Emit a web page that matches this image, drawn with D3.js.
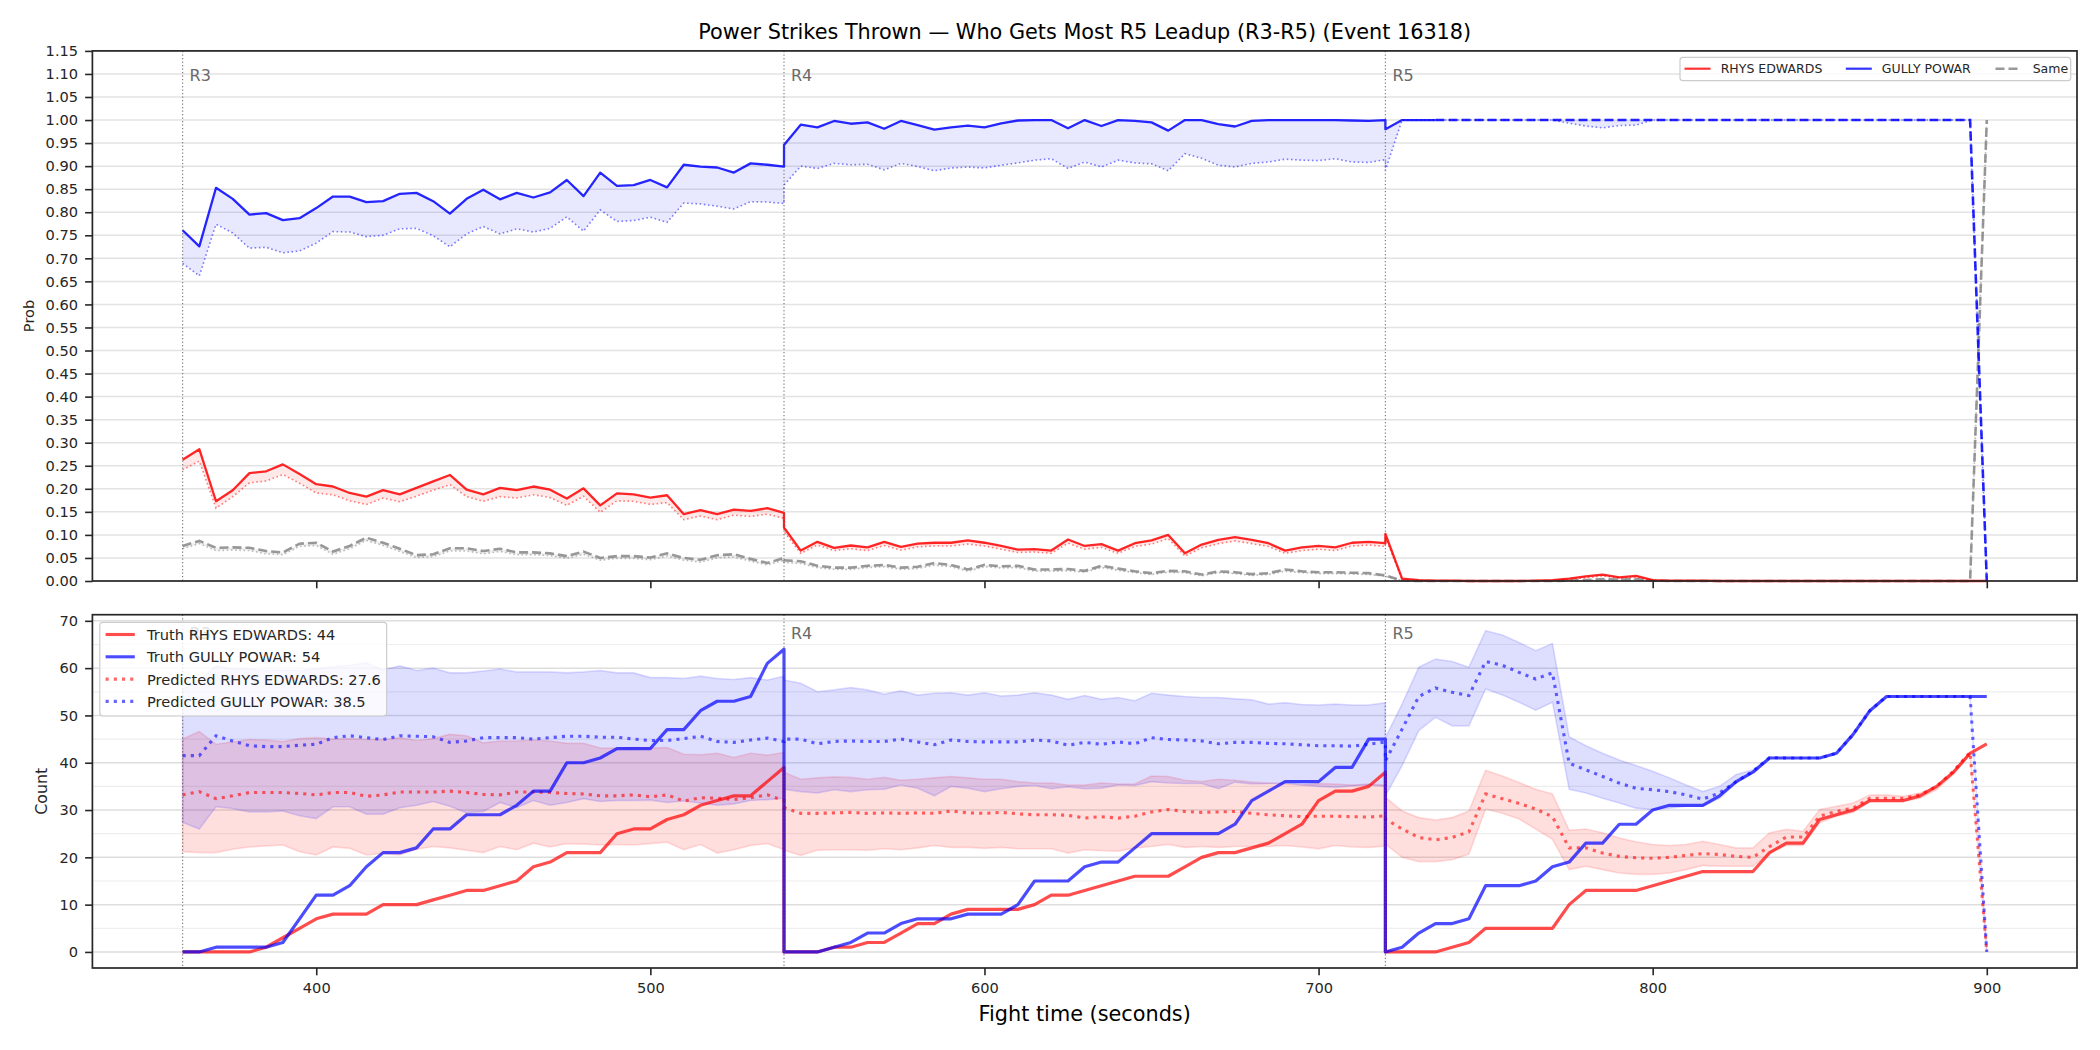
<!DOCTYPE html>
<html>
<head>
<meta charset="utf-8">
<script src="https://cdn.jsdelivr.net/npm/d3@7"></script>
<style>
  html, body { margin: 0; padding: 0; background: #fff; }
  svg { display: block; font-family: "DejaVu Sans", sans-serif; }
</style>
</head>
<body>
<svg id="chart" width="2100" height="1050"></svg>
<script>
// Rounds shown (5 s steps, each round keeps its own first/last point)
const rounds = [
  { name: 'R3', start: 360, end: 540 },
  { name: 'R4', start: 540, end: 720 },
  { name: 'R5', start: 720, end: 900 },
];
const fighters = ['RHYS EDWARDS', 'GULLY POWAR'];
const predictedFinal = [27.6, 38.5];
const blueLockTime = 735; // from here the GULLY POWAR prob is drawn dashed

// ---- top panel: probabilities (line + dotted lower edge) ----
const probRed = [
  0.263,0.286,0.173,0.197,0.234,0.238,0.253,0.232,0.210,0.205, 0.191,0.183,0.197,0.188,0.202,0.216,0.230,0.198,0.188,0.202,
  0.197,0.205,0.198,0.179,0.201,0.164,0.190,0.188,0.181,0.186, 0.145,0.154,0.145,0.155,0.152,0.158,0.148,
  0.116,0.066,0.085,0.072,0.077,0.073,0.085,0.074,0.081,0.083, 0.083,0.088,0.083,0.076,0.068,0.069,0.066,0.090,0.076,0.080,
  0.066,0.082,0.088,0.100,0.060,0.079,0.089,0.095,0.089,0.082, 0.066,0.073,0.076,0.073,0.083,0.085,0.082,
  0.102,0.005,0.002,0.001,0.001,0,0,0,0,0.001, 0.002,0.005,0.010,0.014,0.008,0.011,0.002,0.001,0.001,0.001,
  0,0,0,0,0,0,0,0,0,0, 0,0,0,0,0,0,0,
];
const probRedLo = [
  0.241,0.260,0.158,0.183,0.213,0.217,0.231,0.212,0.191,0.187, 0.174,0.166,0.180,0.172,0.184,0.197,0.209,0.183,0.173,0.183,
  0.180,0.187,0.181,0.164,0.184,0.149,0.174,0.173,0.166,0.170, 0.133,0.141,0.133,0.143,0.140,0.145,0.136,
  0.107,0.060,0.078,0.066,0.070,0.066,0.077,0.067,0.074,0.076, 0.076,0.080,0.076,0.069,0.062,0.063,0.060,0.082,0.069,0.073,
  0.060,0.075,0.080,0.092,0.054,0.072,0.081,0.087,0.081,0.075, 0.060,0.066,0.069,0.066,0.076,0.078,0.075,
  0.095,0.003,0.001,0,0,0,0,0,0,0, 0.001,0.003,0.007,0.011,0.006,0.008,0.001,0,0,0,
  0,0,0,0,0,0,0,0,0,0, 0,0,0,0,0,0,0,
];
const probBlue = [
  0.761,0.726,0.853,0.829,0.795,0.798,0.783,0.787,0.809,0.834, 0.834,0.822,0.824,0.840,0.842,0.824,0.797,0.829,0.849,0.828,
  0.842,0.832,0.843,0.870,0.835,0.886,0.857,0.859,0.870,0.854, 0.903,0.899,0.897,0.886,0.906,0.903,0.899,
  0.946,0.990,0.984,0.998,0.992,0.995,0.981,0.998,0.989,0.979, 0.984,0.988,0.984,0.993,0.999,1.000,1.000,0.982,1.000,0.987,
  1.000,0.998,0.995,0.977,1.000,1.000,0.991,0.986,0.998,1.000, 1.000,1.000,1.000,1.000,0.999,0.998,1.000,
  0.980,1,1,1,1,1,1,1,1,1, 1,1,1,1,1,1,1,1,1,1,
  1,1,1,1,1,1,1,1,1,1, 1,1,1,1,1,1,0,
];
const probBlueLo = [
  0.689,0.662,0.774,0.755,0.722,0.724,0.712,0.716,0.733,0.758, 0.757,0.747,0.750,0.764,0.765,0.749,0.725,0.753,0.769,0.753,
  0.764,0.757,0.765,0.790,0.759,0.805,0.780,0.782,0.789,0.778, 0.820,0.818,0.813,0.807,0.823,0.822,0.819,
  0.859,0.900,0.895,0.906,0.903,0.904,0.892,0.906,0.899,0.890, 0.896,0.898,0.896,0.902,0.907,0.913,0.916,0.895,0.909,0.898,
  0.913,0.907,0.905,0.890,0.927,0.917,0.902,0.898,0.906,0.909, 0.915,0.913,0.912,0.916,0.909,0.908,0.914,
  0.891,1,1,1,1,1,1,1,1,1, 1,0.993,0.987,0.983,0.988,0.989,1,1,1,1,
  1,1,1,1,1,1,1,1,1,1, 1,1,1,1,1,1,0,
];
const probSame = [
  0.076,0.087,0.072,0.073,0.072,0.065,0.062,0.081,0.083,0.064, 0.076,0.094,0.083,0.070,0.056,0.058,0.071,0.071,0.065,0.070,
  0.062,0.062,0.060,0.054,0.064,0.050,0.054,0.054,0.051,0.060, 0.050,0.046,0.056,0.058,0.048,0.039,0.050,
  0.045,0.043,0.033,0.029,0.029,0.033,0.035,0.029,0.031,0.039, 0.035,0.025,0.035,0.032,0.033,0.025,0.025,0.026,0.022,0.033,
  0.027,0.021,0.017,0.022,0.021,0.014,0.021,0.019,0.015,0.017, 0.025,0.021,0.019,0.019,0.018,0.017,0.012,
  0.012,0.001,0,0,0,0,0,0,0,0, 0,0.001,0.002,0.004,0.003,0.004,0.001,0,0,0,
  0,0,0,0,0,0,0,0,0,0, 0,0,0,0,0,0,1,
];
const probSameLo = [
  0.070,0.081,0.066,0.067,0.066,0.059,0.057,0.075,0.077,0.058, 0.070,0.088,0.077,0.064,0.051,0.053,0.065,0.065,0.059,0.064,
  0.057,0.057,0.055,0.049,0.058,0.045,0.049,0.049,0.046,0.054, 0.045,0.041,0.050,0.052,0.043,0.035,0.045,
  0.040,0.038,0.029,0.025,0.025,0.029,0.031,0.025,0.027,0.034, 0.031,0.021,0.031,0.028,0.029,0.021,0.021,0.022,0.019,0.029,
  0.023,0.018,0.014,0.019,0.018,0.011,0.018,0.016,0.012,0.014, 0.021,0.018,0.016,0.016,0.015,0.014,0.010,
  0.010,0.001,0,0,0,0,0,0,0,0, 0,0,0.001,0.003,0.002,0.003,0,0,0,0,
  0,0,0,0,0,0,0,0,0,0, 0,0,0,0,0,0,1,
];

// ---- bottom panel: counts ----
const truthRed = [
  0,0,0,0,0,1,3,5,7,8, 8,8,10,10,10,11,12,13,13,14, 15,18,19,21,21,21,25,26,26,28, 29,31,32,33,33,36,39,
  0,0,0,1,1,2,2,4,6,6, 8,9,9,9,9,10,12,12,13,14, 15,16,16,16,18,20,21,21,22,23, 25,27,32,34,34,35,38,
  0,0,0,0,1,2,5,5,5,5, 5,10,13,13,13,13,14,15,16,17, 17,17,17,21,23,23,28,29,30,32, 32,32,33,35,38,42,44,
];
const truthBlue = [
  0,0,1,1,1,1,2,7,12,12, 14,18,21,21,22,26,26,29,29,29, 31,34,34,40,40,41,43,43,43,47, 47,51,53,53,54,61,64,
  0,0,0,1,2,4,4,6,7,7, 7,8,8,8,10,15,15,15,18,19, 19,22,25,25,25,25,25,27,32,34, 36,36,36,39,39,45,45,
  0,1,4,6,6,7,14,14,14,15, 18,19,23,23,27,27,30,31,31,31, 33,36,38,41,41,41,41,42,46,51, 54,54,54,54,54,54,54,
];
const predRed = [
  33.2,33.9,32.4,33.0,33.7,33.7,33.7,33.5,33.2,33.7, 33.7,32.9,33.2,33.8,33.8,33.8,34.0,33.7,33.3,33.2,
  33.8,33.8,33.7,33.5,33.4,33.0,33.0,33.2,32.8,33.2, 31.9,32.6,32.5,32.2,32.6,33.2,32.0,
  30.5,29.3,29.3,29.4,29.5,29.3,29.4,29.3,29.4,29.3, 29.8,29.4,29.3,29.5,29.2,29.0,29.0,28.9,28.3,28.6,
  28.3,28.7,29.6,30.1,29.7,29.5,29.6,29.7,29.3,29.0, 28.8,28.6,28.7,28.7,28.6,28.5,28.8,
  28.1,26.0,24.2,23.7,24.2,25.4,33.4,32.4,31.4,30.2, 28.6,22.0,22.0,20.9,20.2,19.9,19.8,20.0,20.4,20.8,
  20.6,20.2,20.0,22.3,24.3,24.3,28.7,29.7,30.4,32.5, 32.5,32.5,33.2,35.0,38.2,42.2,0,
];
const predRedLo = [
  21.2,21.0,21.0,21.7,22.2,22.4,22.6,21.2,20.5,22.2, 21.9,20.5,20.8,20.5,21.7,22.3,22.0,21.5,21.0,22.3,
  21.6,23.0,22.2,22.9,22.8,22.6,22.7,22.6,22.9,23.2, 21.6,22.7,20.9,21.6,22.5,22.9,21.6,
  21.5,20.4,21.5,21.6,21.6,21.5,21.8,21.6,22.0,22.5, 22.1,22.1,21.9,22.1,21.8,21.8,21.8,20.9,21.6,21.4,
  21.3,22.0,22.3,22.7,22.1,22.3,22.1,22.3,22.3,22.3, 22.5,22.2,21.8,22.5,22.2,22.1,22.4,
  22.8,20.0,19.1,19.1,19.5,20.7,30.2,29.3,28.1,26.0, 23.8,17.4,18.1,17.4,16.7,16.4,16.4,16.7,17.4,18.3,
  18.1,18.1,18.1,20.9,22.5,22.5,27.3,28.7,29.5,31.8, 31.8,31.8,32.5,34.3,37.5,41.7,0,
];
const predRedHi = [
  45.0,46.6,43.9,44.4,44.9,44.8,44.5,45.1,45.3,45.0, 45.1,44.9,44.9,45.3,44.7,45.1,46.0,45.7,44.2,44.6,
  44.6,44.8,44.6,44.1,44.1,43.1,43.1,43.2,43.1,43.2, 41.8,41.7,42.0,41.1,42.0,41.6,42.2,
  38.0,36.5,36.8,37.0,36.9,36.5,36.9,36.3,36.5,36.8, 37.1,36.8,36.5,36.5,36.0,35.7,35.7,35.3,35.3,35.7,
  35.5,35.5,37.2,37.1,36.3,36.0,36.5,36.3,35.9,35.7, 35.5,35.3,35.6,35.5,35.3,35.5,35.3,
  32.7,29.8,28.4,27.9,28.4,29.8,38.4,37.2,35.8,34.4, 33.4,25.7,26.0,25.2,24.1,23.3,22.7,22.5,22.7,23.4,
  22.7,22.0,22.0,25.2,25.9,25.5,30.1,30.8,31.5,33.2, 33.2,32.9,33.6,35.0,38.2,42.2,0,
];
const predBlue = [
  41.5,41.5,45.7,44.6,43.6,43.4,43.4,43.7,43.9,45.3, 45.7,45.3,44.9,45.7,45.6,45.5,44.3,44.6,45.3,45.3,
  45.3,45.0,45.3,45.6,45.6,45.4,45.4,45.0,44.7,44.7, 45.1,45.6,44.5,44.3,44.8,45.2,44.5,
  45.0,45.0,44.0,44.5,44.6,44.5,44.5,45.0,44.4,43.8, 44.8,44.5,44.4,44.4,44.4,44.8,44.6,43.7,44.3,43.9,
  44.4,44.0,45.3,44.9,44.8,44.6,44.0,44.3,44.3,44.1, 44.0,43.8,43.6,43.6,43.5,43.9,44.4,
  40.4,47.1,54.0,55.8,54.9,54.2,61.4,60.6,59.1,57.7, 59.0,39.9,38.5,37.1,35.7,34.6,34.3,33.9,33.2,32.3,
  33.6,36.0,38.2,41.1,41.0,41.0,41.0,42.0,46.0,51.0, 54.0,54.0,54.0,54.0,54.0,54.0,0,
];
const predBlueLo = [
  27.4,26.0,30.7,30.3,29.6,29.6,29.8,28.8,28.2,30.7, 30.7,29.1,29.1,30.5,31.0,31.8,30.8,29.4,29.7,31.6,
  30.5,32.0,31.0,31.6,32.4,31.8,32.0,32.0,32.1,31.6, 31.9,31.5,31.0,31.3,32.0,32.2,32.5,
  34.4,33.9,33.6,34.3,33.9,34.3,34.4,35.3,34.6,33.0, 35.0,34.6,33.9,34.5,35.0,35.2,34.5,34.9,34.5,34.6,
  35.3,35.2,36.0,35.7,35.6,35.6,34.5,35.9,35.5,35.6, 35.7,35.3,35.0,34.8,35.1,35.3,35.0,
  33.0,39.4,46.8,49.6,47.8,47.8,55.6,54.3,52.8,51.1, 52.8,34.4,33.6,32.5,31.5,30.4,30.1,30.4,30.8,30.8,
  32.5,35.7,37.9,41.1,41.0,41.0,41.0,42.0,46.0,51.0, 54.0,54.0,54.0,54.0,54.0,54.0,0,
];
const predBlueHi = [
  55.5,57.5,60.5,59.8,59.8,59.5,59.6,59.5,59.8,60.3, 60.6,61.1,59.6,60.5,59.5,60.0,59.0,59.0,59.4,59.8,
  59.2,59.2,59.2,59.0,59.2,59.5,59.0,59.0,58.0,58.0, 57.8,58.3,57.8,57.6,58.0,57.5,58.3,
  57.5,56.8,55.0,55.4,55.9,55.4,54.5,55.2,54.3,54.7, 54.8,54.3,54.8,54.1,54.3,54.8,54.3,53.4,54.2,53.4,
  53.8,53.1,54.7,54.3,54.0,53.8,53.8,53.5,53.3,52.4, 52.7,52.3,52.2,52.4,52.2,52.2,52.7,
  45.3,52.4,60.2,61.9,61.4,60.2,67.9,67.0,65.4,63.7, 65.2,45.5,43.6,42.0,40.6,39.4,38.2,36.8,35.3,33.9,
  35.0,37.5,38.5,41.1,41.0,41.0,41.0,42.0,46.0,51.0, 54.0,54.0,54.0,54.0,54.0,54.0,0,
];

// ---- layout ----
const left = 92.4, right = 2077;
const topBox = { top: 50.9, bottom: 581 };
const botBox = { top: 614.7, bottom: 968 };
const FONT = '"DejaVu Sans", sans-serif';
const INK = '#262626';

const svg = d3.select('#chart');

const times = rounds.flatMap(r => d3.range(r.start, r.end + 1, 5));
const pts = vals => vals.map((v, i) => [times[i], v]);

// x: data extent with matplotlib-style 5% margins
const tExt = d3.extent(times);
const tPad = (tExt[1] - tExt[0]) * 0.05;
const x = d3.scaleLinear().domain([tExt[0] - tPad, tExt[1] + tPad]).range([left, right]);

const yP = d3.scaleLinear().domain([0, 1.15]).range([topBox.bottom, topBox.top]);

const allCounts = [truthRed, truthBlue, predRed, predRedLo, predRedHi, predBlue, predBlueLo, predBlueHi].flat();
const cMax = d3.max(allCounts), cMin = d3.min(allCounts);
const cPad = (cMax - cMin) * 0.05;
const yC = d3.scaleLinear().domain([cMin - cPad, cMax + cPad]).range([botBox.bottom, botBox.top]);

const xTicks = [400, 500, 600, 700, 800, 900];
const probTicks = d3.range(0, 24).map(i => i * 0.05);
const countTicks = [0, 10, 20, 30, 40, 50, 60, 70];
const countMinor = [5, 15, 25, 35, 45, 55, 65];

// Title
svg.append('text')
  .attr('x', (left + right) / 2).attr('y', 38.5)
  .attr('text-anchor', 'middle')
  .attr('font-family', FONT).attr('font-size', 20.8)
  .attr('fill', '#000')
  .text('Power Strikes Thrown \u2014 Who Gets Most R5 Leadup (R3-R5) (Event 16318)');

function gridLines(g, scale, values, color, width) {
  g.append('g').selectAll('line').data(values).join('line')
    .attr('x1', left).attr('x2', right)
    .attr('y1', d => scale(d)).attr('y2', d => scale(d))
    .attr('stroke', color).attr('stroke-width', width);
}

function roundMarkers(g, box, labelY) {
  g.append('g').selectAll('line').data(rounds).join('line')
    .attr('x1', d => x(d.start)).attr('x2', d => x(d.start))
    .attr('y1', box.top).attr('y2', box.bottom)
    .attr('stroke', '#555').attr('stroke-opacity', 0.75)
    .attr('stroke-width', 1.2).attr('stroke-dasharray', '1.3,2.2');
  g.append('g').selectAll('text').data(rounds).join('text')
    .attr('x', d => x(d.start) + 7).attr('y', labelY)
    .attr('font-family', FONT).attr('font-size', 16)
    .attr('fill', '#6a6a6a')
    .text(d => d.name);
}

function frame(g, box) {
  g.append('rect')
    .attr('x', left).attr('y', box.top)
    .attr('width', right - left).attr('height', box.bottom - box.top)
    .attr('fill', 'none').attr('stroke', INK).attr('stroke-width', 1.7);
}

function styleAxis(a) {
  a.select('.domain').remove();
  a.attr('font-family', FONT).attr('font-size', 14.6);
  a.selectAll('.tick line').attr('stroke', INK).attr('stroke-width', 1.6);
  a.selectAll('.tick text').attr('fill', INK);
}

const line = yScale => d3.line().x(d => x(d[0])).y(d => yScale(d[1]));
const band = (yScale, lo, hi) => d3.area()
  .x((d, i) => x(times[i]))
  .y0((d, i) => yScale(lo[i]))
  .y1((d, i) => yScale(hi[i]));

// ================= TOP PANEL =================
const gTop = svg.append('g');
gridLines(gTop, yP, probTicks, '#e3e3e3', 1.5);

// shaded gaps between each line and its dotted lower edge
[
  { lo: probRedLo, hi: probRed, fill: 'rgba(255,0,0,0.09)' },
  { lo: probBlueLo, hi: probBlue, fill: 'rgba(0,0,255,0.09)' },
  { lo: probSameLo, hi: probSame, fill: 'rgba(128,128,128,0.12)' },
].forEach(s => {
  gTop.append('path').datum(times)
    .attr('d', band(yP, s.lo, s.hi))
    .attr('fill', s.fill).attr('stroke', 'none');
});

// dotted lower edges
[
  { vals: probRedLo, color: 'red' },
  { vals: probBlueLo, color: 'blue' },
  { vals: probSameLo, color: 'gray' },
].forEach(s => {
  gTop.append('path').datum(pts(s.vals))
    .attr('d', line(yP))
    .attr('fill', 'none').attr('stroke', s.color)
    .attr('stroke-opacity', 0.5).attr('stroke-width', 1.6)
    .attr('stroke-dasharray', '1.6,2.6');
});

// main probability lines
const lockIdx = times.lastIndexOf(blueLockTime);
const bluePts = pts(probBlue);
gTop.append('path').datum(pts(probSame))
  .attr('d', line(yP)).attr('fill', 'none')
  .attr('stroke', 'gray').attr('stroke-opacity', 0.8)
  .attr('stroke-width', 2.6).attr('stroke-dasharray', '9,4');
gTop.append('path').datum(pts(probRed))
  .attr('d', line(yP)).attr('fill', 'none')
  .attr('stroke', 'red').attr('stroke-opacity', 0.85).attr('stroke-width', 2.3)
  .attr('stroke-linejoin', 'round');
gTop.append('path').datum(bluePts.slice(0, lockIdx + 1))
  .attr('d', line(yP)).attr('fill', 'none')
  .attr('stroke', 'blue').attr('stroke-opacity', 0.85).attr('stroke-width', 2.3)
  .attr('stroke-linejoin', 'round');
gTop.append('path').datum(bluePts.slice(lockIdx))
  .attr('d', line(yP)).attr('fill', 'none')
  .attr('stroke', 'blue').attr('stroke-opacity', 0.85).attr('stroke-width', 2.6)
  .attr('stroke-dasharray', '9,4');

roundMarkers(gTop, topBox, 81);

// axes
const axTopY = gTop.append('g').attr('transform', `translate(${left},0)`)
  .call(d3.axisLeft(yP).tickValues(probTicks).tickFormat(d3.format('.2f')).tickSize(7.3).tickPadding(7));
styleAxis(axTopY);
const axTopX = gTop.append('g').attr('transform', `translate(0,${topBox.bottom})`)
  .call(d3.axisBottom(x).tickValues(xTicks).tickFormat('').tickSize(7.3));
styleAxis(axTopX);
frame(gTop, topBox);

gTop.append('text')
  .attr('transform', `translate(28,${(topBox.top + topBox.bottom) / 2}) rotate(-90)`)
  .attr('text-anchor', 'middle').attr('dominant-baseline', 'central')
  .attr('font-family', FONT).attr('font-size', 14.6).attr('fill', INK)
  .text('Prob');

// top legend
const legTop = gTop.append('g');
legTop.append('rect')
  .attr('x', 1680).attr('y', 57.3).attr('width', 390.7).attr('height', 23.4)
  .attr('rx', 3).attr('fill', 'rgba(255,255,255,0.8)')
  .attr('stroke', '#cccccc').attr('stroke-width', 1.2);
const topLegendItems = [
  { label: fighters[0], color: 'red', dash: null, hx: 1684.5, tx: 1720.7 },
  { label: fighters[1], color: 'blue', dash: null, hx: 1845.8, tx: 1881.8 },
  { label: 'Same', color: 'gray', dash: '9,4', hx: 1995.5, tx: 2032.7 },
];
topLegendItems.forEach(it => {
  legTop.append('line')
    .attr('x1', it.hx).attr('x2', it.hx + 26).attr('y1', 68.7).attr('y2', 68.7)
    .attr('stroke', it.color).attr('stroke-opacity', 0.8)
    .attr('stroke-width', it.dash ? 2.6 : 2.2)
    .attr('stroke-dasharray', it.dash);
  legTop.append('text')
    .attr('x', it.tx).attr('y', 68.7).attr('dominant-baseline', 'central')
    .attr('font-family', FONT).attr('font-size', 12.5).attr('fill', INK)
    .text(it.label);
});

// ================= BOTTOM PANEL =================
const gBot = svg.append('g');
gridLines(gBot, yC, countMinor, '#eeeeee', 1.2);
gridLines(gBot, yC, countTicks, '#dedede', 1.5);

// prediction bands (fill + faint edge like fill_between)
[
  { lo: predRedLo, hi: predRedHi, c: '255,0,0' },
  { lo: predBlueLo, hi: predBlueHi, c: '0,0,255' },
].forEach(s => {
  gBot.append('path').datum(times)
    .attr('d', band(yC, s.lo, s.hi))
    .attr('fill', `rgba(${s.c},0.13)`)
    .attr('stroke', `rgba(${s.c},0.13)`).attr('stroke-width', 1.6);
});

// predicted (dotted)
[
  { vals: predRed, color: 'red' },
  { vals: predBlue, color: 'blue' },
].forEach(s => {
  gBot.append('path').datum(pts(s.vals))
    .attr('d', line(yC)).attr('fill', 'none')
    .attr('stroke', s.color).attr('stroke-opacity', 0.6)
    .attr('stroke-width', 3.1).attr('stroke-dasharray', '3.1,5.1');
});

// truth lines
[
  { vals: truthRed, color: 'red' },
  { vals: truthBlue, color: 'blue' },
].forEach(s => {
  gBot.append('path').datum(pts(s.vals))
    .attr('d', line(yC)).attr('fill', 'none')
    .attr('stroke', s.color).attr('stroke-opacity', 0.7)
    .attr('stroke-width', 3.2).attr('stroke-linejoin', 'round');
});

roundMarkers(gBot, botBox, 639);

const axBotY = gBot.append('g').attr('transform', `translate(${left},0)`)
  .call(d3.axisLeft(yC).tickValues(countTicks).tickSize(7.3).tickPadding(7));
styleAxis(axBotY);
const axBotX = gBot.append('g').attr('transform', `translate(0,${botBox.bottom})`)
  .call(d3.axisBottom(x).tickValues(xTicks).tickFormat(d3.format('d')).tickSize(7.3).tickPadding(7));
styleAxis(axBotX);
frame(gBot, botBox);

gBot.append('text')
  .attr('transform', `translate(41,${(botBox.top + botBox.bottom) / 2}) rotate(-90)`)
  .attr('text-anchor', 'middle').attr('dominant-baseline', 'central')
  .attr('font-family', FONT).attr('font-size', 15.8).attr('fill', INK)
  .text('Count');

svg.append('text')
  .attr('x', (left + right) / 2).attr('y', 1021)
  .attr('text-anchor', 'middle')
  .attr('font-family', FONT).attr('font-size', 20.8).attr('fill', '#000')
  .text('Fight time (seconds)');

// bottom legend (drawn over the R3 label, as in the original)
const legBot = gBot.append('g');
const botLegendItems = [
  { label: `Truth ${fighters[0]}: ${truthRed[truthRed.length - 1]}`, color: 'red', dotted: false },
  { label: `Truth ${fighters[1]}: ${truthBlue[truthBlue.length - 1]}`, color: 'blue', dotted: false },
  { label: `Predicted ${fighters[0]}: ${predictedFinal[0]}`, color: 'red', dotted: true },
  { label: `Predicted ${fighters[1]}: ${predictedFinal[1]}`, color: 'blue', dotted: true },
];
const legBox = legBot.append('rect')
  .attr('x', 99.8).attr('y', 622.3).attr('height', 93.7)
  .attr('rx', 3).attr('fill', 'rgba(255,255,255,0.8)')
  .attr('stroke', '#cccccc').attr('stroke-width', 1.2);
let maxW = 0;
botLegendItems.forEach((it, i) => {
  const cy = 634.5 + i * 22.3;
  legBot.append('line')
    .attr('x1', 105.6).attr('x2', 134.8).attr('y1', cy).attr('y2', cy)
    .attr('stroke', it.color).attr('stroke-opacity', it.dotted ? 0.6 : 0.7)
    .attr('stroke-width', 3.1)
    .attr('stroke-dasharray', it.dotted ? '3.1,5.1' : null);
  const t = legBot.append('text')
    .attr('x', 147).attr('y', cy).attr('dominant-baseline', 'central')
    .attr('font-family', FONT).attr('font-size', 14.6).attr('fill', INK)
    .text(it.label);
  maxW = Math.max(maxW, t.node().getComputedTextLength());
});
legBox.attr('width', 147 + maxW + 5.8 - 99.8);
</script>
</body>
</html>
